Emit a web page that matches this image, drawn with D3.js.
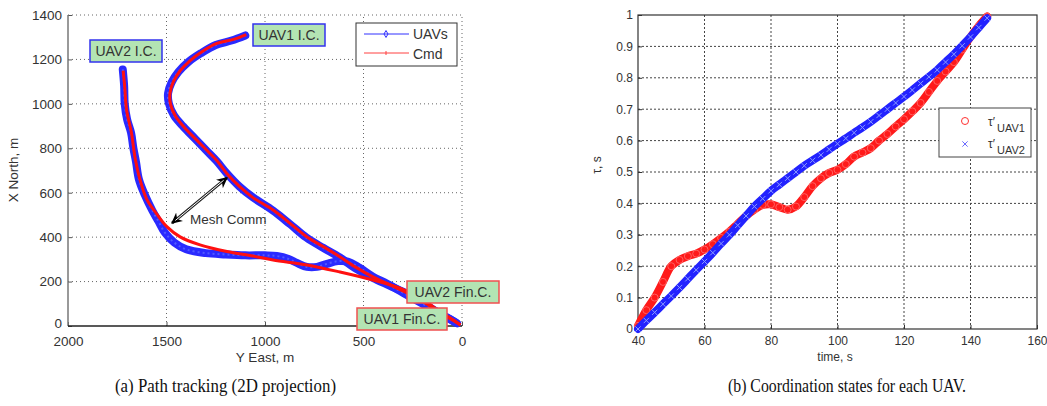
<!DOCTYPE html>
<html>
<head>
<meta charset="utf-8">
<script src="https://cdn.jsdelivr.net/npm/d3@7"></script>
<style>
  body { margin: 0; background: #fff; }
  text { font-family: "Liberation Sans", Arial, sans-serif; fill: #333; }
  .cap { font-family: "Liberation Serif", "Times New Roman", serif; fill: #111; }
</style>
</head>
<body>
<svg id="fig" width="1047" height="406"></svg>
<script>
// ---- path tracking data (Y East, X North in m) ----
const uav1CmdEast  = [1095,1160,1244,1320,1380,1430,1465,1482,1480,1455,1410,1350,1294,1240,1193,1127,1061,959,870,787,700,619,540,452,365,279,200,120,50,8];
const uav1CmdNorth = [1312,1290,1272,1235,1195,1150,1100,1050,1000,945,895,840,790,740,685,626,578,522,460,401,355,311,265,221,185,149,110,65,28,5];
const uav1East  = [1100,1170,1250,1325,1390,1440,1475,1492,1488,1462,1415,1355,1300,1245,1195,1130,1060,960,872,790,705,620,545,455,368,280,205,125,60,25];
const uav1North = [1308,1285,1265,1228,1188,1143,1095,1048,1002,948,898,843,792,742,688,628,578,520,458,398,352,309,262,218,182,146,106,62,30,12];

const uav2CmdEast  = [1720,1712,1703,1678,1660,1635,1600,1550,1497,1431,1330,1193,1061,959,787,619,452,315,200,120,50,8];
const uav2CmdNorth = [1150,1075,975,870,760,660,570,505,446,401,365,335,315,297,275,243,207,170,120,70,30,5];
const uav2East  = [1722,1715,1712,1700,1680,1668,1655,1640,1610,1572,1540,1508,1460,1400,1300,1200,1100,1000,940,880,838,787,736,685,630,580,520,452,380,300,200,120,60,30];
const uav2North = [1155,1080,1000,930,870,800,740,660,590,520,470,420,375,345,328,322,318,318,315,302,284,266,266,280,292,290,262,222,190,150,100,60,30,15];

const xTicksL = [2000,1500,1000,500,0];
const yTicksL = [0,200,400,600,800,1000,1200,1400];

// ---- coordination states ----
const time  = [40,42.5,45,47.5,50,52.5,55,57.5,60,62.5,65,67.5,70,72.5,75,77.5,80,82.5,85,87.5,90,92.5,95,97.5,100,102.5,105,107.5,110,112.5,115,117.5,120,122.5,125,127.5,130,132.5,135,137.5,140,142.5,145];
const tauUav1 = [0.01,0.06,0.10,0.15,0.20,0.22,0.232,0.24,0.253,0.27,0.29,0.31,0.335,0.36,0.38,0.395,0.397,0.388,0.38,0.39,0.42,0.455,0.48,0.497,0.507,0.525,0.549,0.562,0.576,0.60,0.621,0.645,0.668,0.693,0.72,0.755,0.79,0.82,0.85,0.89,0.93,0.965,0.995];
const tauUav2 = [0.0,0.027,0.053,0.079,0.105,0.132,0.16,0.188,0.215,0.243,0.272,0.30,0.33,0.36,0.39,0.415,0.44,0.46,0.48,0.50,0.52,0.537,0.554,0.572,0.59,0.607,0.625,0.642,0.66,0.68,0.70,0.72,0.74,0.761,0.782,0.803,0.825,0.85,0.875,0.902,0.93,0.96,0.99];
const xTicksR = [40,60,80,100,120,140,160];
const yTicksR = [0,0.1,0.2,0.3,0.4,0.5,0.6,0.7,0.8,0.9,1];

const svg = d3.select("#fig");

// ================= (a) path tracking =================
var xL = d3.scaleLinear().domain([2000, 0]).range([68, 462]);
var yL = d3.scaleLinear().domain([0, 1400]).range([326, 15]);

var gA = svg.append("g");

// grid
gA.selectAll(".gx").data(xTicksL.filter(d => d != 2000)).enter().append("line")
  .attr("x1", d => xL(d)).attr("x2", d => xL(d)).attr("y1", yL(0)).attr("y2", yL(1400))
  .attr("stroke", "#666").attr("stroke-dasharray", "1,3");
gA.selectAll(".gy").data(yTicksL.filter(d => d != 0)).enter().append("line")
  .attr("x1", xL(2000)).attr("x2", xL(0)).attr("y1", d => yL(d)).attr("y2", d => yL(d))
  .attr("stroke", "#666").attr("stroke-dasharray", "1,3");

// axes
var axL = d3.axisLeft(yL).tickValues(yTicksL).tickFormat(d3.format("d")).tickSize(-4).tickPadding(6);
var axB = d3.axisBottom(xL).tickValues(xTicksL).tickFormat(d3.format("d")).tickSize(-4).tickPadding(10);
gA.append("g").attr("transform", "translate(68,0)").call(axL)
  .call(g => g.selectAll("text").attr("font-size", 13.5))
  .call(g => g.selectAll(".tick").filter(d => d == 0).select("text").attr("dy", "0.1em"));
gA.append("g").attr("transform", "translate(0,326)").call(axB)
  .call(g => g.selectAll("text").attr("font-size", 13.5));
gA.selectAll(".tick line").attr("stroke", "#555");
gA.selectAll(".domain").attr("d", null);
gA.append("line").attr("x1", 68).attr("x2", 68).attr("y1", 15).attr("y2", 326).attr("stroke", "#777").attr("stroke-width", 1.5);
gA.append("line").attr("x1", 68).attr("x2", 462).attr("y1", 326).attr("y2", 326).attr("stroke", "#222").attr("stroke-width", 1.5);

var lineL = d3.line().curve(d3.curveCatmullRom)
  .x(d => xL(d[0])).y(d => yL(d[1]));

function drawUav(east, north) {
  var pts = d3.zip(east, north);
  gA.append("path").attr("d", lineL(pts)).attr("fill", "none")
    .attr("stroke", "#2a2aff").attr("stroke-width", 8).attr("stroke-linejoin", "round").attr("stroke-linecap", "round");
  gA.append("path").attr("d", lineL(pts)).attr("fill", "none")
    .attr("stroke", "#6a7aff").attr("stroke-width", 2).attr("stroke-dasharray", "2,3").attr("opacity", 0.6);
}
function drawCmd(east, north) {
  gA.append("path").attr("d", lineL(d3.zip(east, north))).attr("fill", "none")
    .attr("stroke", "#ff1010").attr("stroke-width", 3).attr("stroke-linejoin", "round");
}
drawUav(uav1East, uav1North);
drawUav(uav2East, uav2North);
drawCmd(uav1CmdEast, uav1CmdNorth);
drawCmd(uav2CmdEast, uav2CmdNorth);

// mesh comm arrow
var defs = svg.append("defs");
defs.append("marker").attr("id", "ah").attr("viewBox", "0 0 10 10").attr("refX", 9).attr("refY", 5)
  .attr("markerWidth", 11).attr("markerHeight", 11).attr("markerUnits", "userSpaceOnUse").attr("orient", "auto-start-reverse")
  .append("path").attr("d", "M0,0 L10,5 L0,10 L3,5 Z").attr("fill", "#000");
gA.append("line").attr("x1", xL(1472)).attr("y1", yL(463)).attr("x2", xL(1193)).attr("y2", yL(668))
  .attr("stroke", "#222").attr("stroke-width", 3)
  .attr("marker-start", "url(#ah)").attr("marker-end", "url(#ah)");
gA.append("line").attr("x1", xL(1455)).attr("y1", yL(475)).attr("x2", xL(1210)).attr("y2", yL(656))
  .attr("stroke", "#fff").attr("stroke-width", 1);
gA.append("text").attr("x", 190).attr("y", 224).attr("font-size", 13.5).text("Mesh Comm");

// tags
function tag(x, y, w, h, label, border) {
  gA.append("rect").attr("x", x).attr("y", y).attr("width", w).attr("height", h)
    .attr("fill", "#b3e4b3").attr("stroke", border).attr("stroke-width", 1.5);
  gA.append("text").attr("x", x + w / 2).attr("y", y + h / 2 + 5).attr("text-anchor", "middle")
    .attr("font-size", 14).text(label);
}
tag(90, 40, 72, 22, "UAV2 I.C.", "#3333ee");
tag(253, 24, 72, 22, "UAV1 I.C.", "#3333ee");
tag(407, 281, 92, 22, "UAV2 Fin.C.", "#f05050");
tag(357, 308, 90, 22, "UAV1 Fin.C.", "#f05050");

// legend
var lgA = gA.append("g");
lgA.append("rect").attr("x", 356).attr("y", 23).attr("width", 101).attr("height", 43)
  .attr("fill", "#fff").attr("stroke", "#333");
lgA.append("line").attr("x1", 364).attr("x2", 409).attr("y1", 34).attr("y2", 34).attr("stroke", "#3030ff");
lgA.append("path").attr("d", d3.symbol(d3.symbolDiamond, 14)()).attr("transform", "translate(386,34)")
  .attr("fill", "none").attr("stroke", "#3030ff");
lgA.append("line").attr("x1", 364).attr("x2", 409).attr("y1", 53).attr("y2", 53).attr("stroke", "#ff4040");
lgA.append("line").attr("x1", 386).attr("x2", 386).attr("y1", 51).attr("y2", 55).attr("stroke", "#ff4040");
lgA.append("text").attr("x", 413).attr("y", 39).attr("font-size", 14).text("UAVs");
lgA.append("text").attr("x", 413).attr("y", 59).attr("font-size", 14).text("Cmd");

// axis labels
gA.append("text").attr("transform", "translate(18,170) rotate(-90)").attr("text-anchor", "middle")
  .attr("font-size", 13.5).text("X North, m");
gA.append("text").attr("x", 265).attr("y", 362).attr("text-anchor", "middle").attr("font-size", 13.5).text("Y East, m");

svg.append("text").attr("class", "cap").attr("x", 115).attr("y", 392)
  .attr("font-size", 18).attr("textLength", 221).attr("lengthAdjust", "spacingAndGlyphs")
  .text("(a) Path tracking (2D projection)");

// ================= (b) coordination states =================
var xR = d3.scaleLinear().domain([40, 160]).range([638, 1037]);
var yR = d3.scaleLinear().domain([0, 1]).range([329, 15]);
var gB = svg.append("g");

gB.selectAll(".gx").data(xTicksR.slice(1, -1)).enter().append("line")
  .attr("x1", d => xR(d)).attr("x2", d => xR(d)).attr("y1", yR(0)).attr("y2", yR(1))
  .attr("stroke", "#444").attr("stroke-dasharray", "2,2");
gB.selectAll(".gy").data(yTicksR.slice(1, -1)).enter().append("line")
  .attr("x1", xR(40)).attr("x2", xR(160)).attr("y1", d => yR(d)).attr("y2", d => yR(d))
  .attr("stroke", "#444").attr("stroke-dasharray", "2,2");

gB.append("g").attr("transform", "translate(638,0)")
  .call(d3.axisLeft(yR).tickValues(yTicksR).tickFormat(d3.format("")).tickSize(-4).tickPadding(5))
  .call(g => g.selectAll("text").attr("font-size", 12));
gB.append("g").attr("transform", "translate(0,329)")
  .call(d3.axisBottom(xR).tickValues(xTicksR).tickSize(-4).tickPadding(7))
  .call(g => g.selectAll("text").attr("font-size", 12));
gB.selectAll(".domain").attr("d", null);
gB.selectAll(".tick line").attr("stroke", "#333");
gB.append("rect").attr("x", 638).attr("y", 15).attr("width", 399).attr("height", 314)
  .attr("fill", "none").attr("stroke", "#333").attr("stroke-width", 1.2);

var lineR = d3.line().curve(d3.curveCatmullRom).x(d => xR(d[0])).y(d => yR(d[1]));
var d1 = d3.zip(time, tauUav1), d2 = d3.zip(time, tauUav2);

gB.append("path").attr("d", lineR(d1)).attr("fill", "none").attr("stroke", "#ff1a1a").attr("stroke-width", 8).attr("stroke-linecap", "round");
gB.selectAll(".c1").data(d1).enter().append("circle")
  .attr("cx", d => xR(d[0])).attr("cy", d => yR(d[1])).attr("r", 3.5)
  .attr("fill", "none").attr("stroke", "#ff6060").attr("stroke-width", 1);
gB.append("path").attr("d", lineR(d2)).attr("fill", "none").attr("stroke", "#2222ff").attr("stroke-width", 8).attr("stroke-linecap", "round");
gB.selectAll(".x2").data(d2).enter().append("path")
  .attr("d", d3.symbol(d3.symbolX, 20)()).attr("transform", d => "translate(" + xR(d[0]) + "," + yR(d[1]) + ")")
  .attr("stroke", "#8a9aff").attr("stroke-width", 1);

// legend
var lgB = gB.append("g");
lgB.append("rect").attr("x", 939).attr("y", 108).attr("width", 92).attr("height", 49)
  .attr("fill", "#fff").attr("stroke", "#444");
lgB.append("circle").attr("cx", 965).attr("cy", 121).attr("r", 3.5).attr("fill", "none").attr("stroke", "#ff3030");
lgB.append("path").attr("d", d3.symbol(d3.symbolX, 20)()).attr("transform", "translate(965,144)").attr("stroke", "#6a6aff");
var t1 = lgB.append("text").attr("x", 988).attr("y", 126).attr("font-size", 12);
t1.append("tspan").text("τ′");
t1.append("tspan").attr("dx", 2).attr("dy", 6).attr("font-size", 11).text("UAV1");
var t2 = lgB.append("text").attr("x", 988).attr("y", 148).attr("font-size", 12);
t2.append("tspan").text("τ′");
t2.append("tspan").attr("dx", 2).attr("dy", 6).attr("font-size", 11).text("UAV2");

gB.append("text").attr("transform", "translate(601,165) rotate(-90)").attr("text-anchor", "middle")
  .attr("font-size", 12).text("τ, s");
gB.append("text").attr("x", 835).attr("y", 361).attr("text-anchor", "middle").attr("font-size", 12).text("time, s");

svg.append("text").attr("class", "cap").attr("x", 728).attr("y", 392)
  .attr("font-size", 18).attr("textLength", 238).attr("lengthAdjust", "spacingAndGlyphs")
  .text("(b) Coordination states for each UAV.");
</script>
</body>
</html>
